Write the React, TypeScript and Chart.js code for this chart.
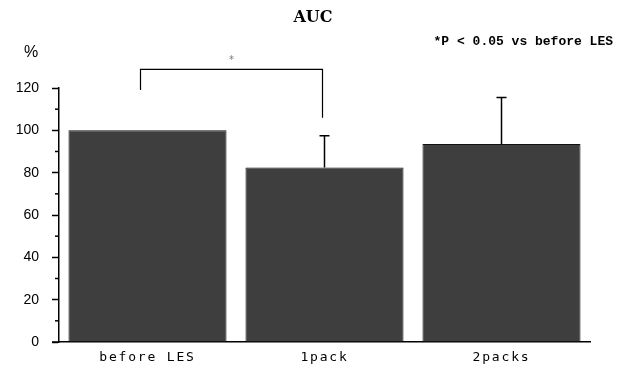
import React, { useEffect, useRef } from "react";
import { Chart, registerables } from "chart.js";

Chart.register(...registerables);

const categories = ["before LES", "1pack", "2packs"];
const means = [100, 82.5, 93.5];
const errors = [0, 15, 22];
const yTicks = [0, 20, 40, 60, 80, 100, 120];
const minorTicks = [10, 30, 50, 70, 90, 110];
const titleText = "AUC";
const unitText = "%";
const noteText = "*P < 0.05 vs before LES";
const starText = "*";

const overlayPlugin = {
  id: "overlay",
  afterLayout(chart: any) {
    const xs = chart.scales.x;
    if (!xs._patched) {
      const orig = xs.drawLabels.bind(xs);
      xs.drawLabels = (area: any) => {
        const ctx = chart.ctx;
        ctx.save();
        (ctx as any).letterSpacing = "1.8px";
        orig(area);
        ctx.restore();
      };
      xs._patched = true;
    }
  },
  afterDraw(chart: any) {
    const ctx = chart.ctx;
    const xs = chart.scales.x;
    const ys = chart.scales.y;
    const area = chart.chartArea;
    ctx.save();
    ctx.strokeStyle = "#000";
    ctx.fillStyle = "#000";
    // minor ticks
    ctx.lineWidth = 1.5;
    minorTicks.forEach((v) => {
      const y = ys.getPixelForValue(v);
      ctx.beginPath();
      ctx.moveTo(area.left - 4, y);
      ctx.lineTo(area.left, y);
      ctx.stroke();
    });
    // baseline extension
    ctx.beginPath();
    ctx.moveTo(area.left - 7, area.bottom);
    ctx.lineTo(area.left, area.bottom);
    ctx.stroke();
    // error bars
    ctx.lineWidth = 1.5;
    means.forEach((m, i) => {
      if (!errors[i]) return;
      const x = xs.getPixelForValue(i);
      const y0 = ys.getPixelForValue(m);
      const y1 = ys.getPixelForValue(m + errors[i]);
      ctx.beginPath();
      ctx.moveTo(x, y0);
      ctx.lineTo(x, y1);
      ctx.moveTo(x - 5, y1);
      ctx.lineTo(x + 5, y1);
      ctx.stroke();
    });
    // bracket
    const lx = xs.getPixelForValue(0) - 7;
    const rx = xs.getPixelForValue(1) - 2;
    const top = ys.getPixelForValue(128.8);
    ctx.lineWidth = 1.2;
    ctx.beginPath();
    ctx.moveTo(lx, ys.getPixelForValue(119));
    ctx.lineTo(lx, top);
    ctx.lineTo(rx, top);
    ctx.lineTo(rx, ys.getPixelForValue(106));
    ctx.stroke();
    ctx.fillStyle = "#777";
    ctx.font = "10px 'DejaVu Sans'";
    ctx.textAlign = "center";
    ctx.textBaseline = "middle";
    ctx.fillText(starText, (lx + rx) / 2, top - 9);
    // title
    ctx.fillStyle = "#000";
    ctx.font = "bold 16px 'DejaVu Serif'";
    ctx.fillText(titleText, 313, 18);
    // unit
    ctx.font = "16px 'Liberation Sans'";
    ctx.fillText(unitText, 31, 53);
    // note
    ctx.font = "bold 13px 'Liberation Mono'";
    ctx.textAlign = "right";
    ctx.fillText(noteText, 613, 42);
    ctx.restore();
  },
};

export default function App() {
  const ref = useRef<HTMLCanvasElement>(null);
  useEffect(() => {
    document.body.style.margin = "0";
    const chart = new Chart(ref.current!, {
      type: "bar",
      data: {
        labels: categories,
        datasets: [
          {
            data: means,
            backgroundColor: "#3e3e3e",
            borderColor: "#111",
            borderWidth: 1,
            categoryPercentage: 1,
            barPercentage: 0.893,
          },
        ],
      },
      options: {
        responsive: false,
        animation: false,
        devicePixelRatio: 1,
        layout: { padding: { top: 88, right: 36, left: 0, bottom: 0 } },
        plugins: { legend: { display: false }, tooltip: { enabled: false } },
        scales: {
          x: {
            grid: { display: false },
            border: { display: true, color: "#000", width: 1.5 },
            ticks: {
              color: "#000",
              padding: 0,
              font: { family: "'DejaVu Sans Mono'", size: 13 },
              maxRotation: 0,
            },
            afterFit: (s: any) => {
              s.height = 26;
            },
          },
          y: {
            min: 0,
            max: 120,
            afterBuildTicks: (s: any) => {
              s.ticks = yTicks.map((v) => ({ value: v }));
            },
            grid: {
              drawOnChartArea: false,
              drawTicks: true,
              tickLength: 7,
              tickWidth: 1.5,
              tickColor: "#000",
            },
            border: { display: true, color: "#000", width: 1.5 },
            ticks: {
              color: "#000",
              padding: 13,
              font: { family: "'Liberation Sans'", size: 14 },
            },
            afterFit: (s: any) => {
              s.width = 59;
            },
          },
        },
      },
      plugins: [overlayPlugin],
    });
    return () => chart.destroy();
  }, []);
  return <canvas ref={ref} width={626} height={368} style={{ display: "block" }} />;
}
